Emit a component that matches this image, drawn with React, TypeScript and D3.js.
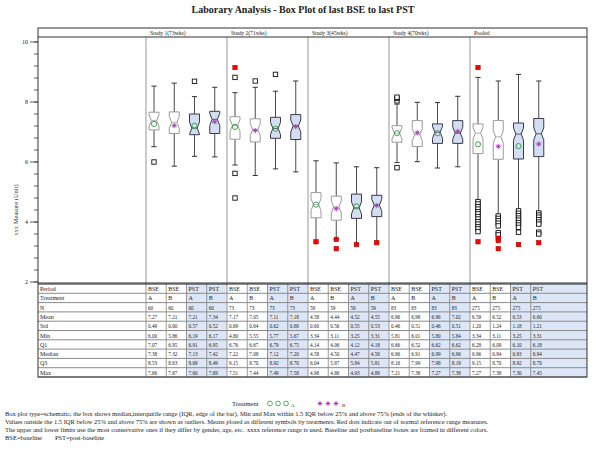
import React from 'react'
import * as d3 from 'd3'

const studies = ['Study 1(73wks)', 'Study 2(71wks)', 'Study 3(45wks)', 'Study 4(70wks)', 'Pooled']
const periods = ['BSE', 'BSE', 'PST', 'PST']
const treatments = ['A', 'B', 'A', 'B']

// table rows, 20 columns: 5 groups x (BSE A, BSE B, PST A, PST B)
const nVals = [60, 60, 60, 60, 73, 73, 73, 73, 59, 59, 59, 59, 83, 83, 83, 83, 275, 275, 275, 275]
const meanVals = [7.27, 7.21, 7.21, 7.34, 7.17, 7.05, 7.11, 7.18, 4.58, 4.44, 4.52, 4.55, 6.96, 6.98, 6.96, 7.02, 6.59, 6.52, 6.53, 6.60]
const stdVals = [0.49, 0.60, 0.57, 0.52, 0.69, 0.64, 0.62, 0.66, 0.60, 0.56, 0.55, 0.53, 0.46, 0.51, 0.46, 0.51, 1.20, 1.24, 1.18, 1.21]
const minVals = [6.00, 5.86, 6.19, 6.17, 4.80, 5.55, 5.77, 5.67, 3.34, 3.11, 3.25, 3.31, 5.81, 6.01, 5.80, 5.84, 3.34, 3.11, 3.25, 3.31]
const q1Vals = [7.07, 6.95, 6.91, 6.95, 6.76, 6.67, 6.79, 6.75, 4.14, 4.06, 4.12, 4.18, 6.66, 6.52, 6.62, 6.62, 6.28, 6.09, 6.10, 6.18]
const medianVals = [7.38, 7.32, 7.13, 7.42, 7.22, 7.08, 7.12, 7.20, 4.58, 4.50, 4.47, 4.56, 6.96, 6.91, 6.99, 6.96, 6.96, 6.84, 6.93, 6.94]
const q3Vals = [8.53, 8.63, 8.69, 8.49, 9.15, 8.70, 8.92, 8.70, 6.04, 5.97, 5.84, 5.81, 8.16, 7.99, 7.98, 8.19, 9.15, 8.70, 8.92, 8.70]
const maxVals = [7.66, 7.67, 7.60, 7.69, 7.51, 7.44, 7.49, 7.58, 4.98, 4.86, 4.93, 4.89, 7.21, 7.38, 7.27, 7.38, 7.27, 7.38, 7.30, 7.45]

// whisker ends and outliers
const whiskerLo = [6.51, 5.86, 6.19, 6.17, 5.9, 5.55, 5.77, 5.67, 3.34, 3.42, 3.25, 3.31, 5.98, 6.01, 5.80, 5.84, 4.70, 4.23, 4.40, 4.34]
const whiskerHi = [8.53, 8.63, 8.18, 8.49, 8.31, 8.49, 8.36, 8.70, 6.04, 5.97, 5.84, 5.81, 7.93, 7.99, 7.98, 8.19, 8.82, 8.70, 8.92, 8.70]
const outliers = [
  [6.00], [], [8.69], [],
  [8.82, 5.62, 4.80], [8.70], [8.92], [],
  [], [], [], [],
  [8.04, 8.12, 8.16, 5.81], [], [], [],
  [4.68, 4.60, 4.51, 4.43, 4.34, 4.27, 4.18, 4.10, 4.01, 3.93, 3.84, 3.77, 3.68],
  [4.20, 4.12, 4.04, 3.96, 3.87, 3.64, 3.57],
  [4.37, 4.29, 4.21, 4.13, 4.06, 3.98, 3.90, 3.82, 3.66],
  [4.30, 4.23, 4.16, 4.08, 4.00, 3.93, 3.66, 3.60],
]
const redPoints = [
  [], [], [], [],
  [9.15], [], [], [],
  [3.34], [3.42, 3.11], [3.25], [3.31],
  [], [], [], [],
  [9.15, 3.34], [3.46, 3.38, 3.11], [3.25], [3.31],
]

const yTicks = [2, 4, 6, 8, 10]

const footnotes = [
  'Box plot type=schematic, the box shows median,interquitile range (IQR, edge of the bar), Min and Max within 1.5 IQR below 25% and above 75% (ends of the whisker).',
  'Values outside the 1.5 IQR below 25% and above 75% are shown as outliers. Means ploted as different symbols by treatments. Red dots indicate out of normal reference range measures.',
  'The upper and lower limits use the most conservative ones if they differ by gender, age, etc.  xxxx reference range is used. Baseline and postbaseline boxes are framed in different colors.',
  'BSE=baseline        PST=post-baseline',
]

const W = 600
const H = 452
const left = 38
const right = 587
const headTop = 28
const headBot = 37
const plotBot = 283
const tableTop = 284
const rowH = 9.3
const font = 'Liberation Serif, Times New Roman, serif'
const green = '#2f9a3c'
const purple = '#a238b0'

const Star = ({ x, y, s = 2.6 }: { x: number; y: number; s?: number }) => (
  <g stroke={purple} strokeWidth={0.9}>
    <line x1={x - s} x2={x + s} y1={y} y2={y} />
    <line x1={x} x2={x} y1={y - s} y2={y + s} />
    <line x1={x - s * 0.7} x2={x + s * 0.7} y1={y - s * 0.7} y2={y + s * 0.7} />
    <line x1={x - s * 0.7} x2={x + s * 0.7} y1={y + s * 0.7} y2={y - s * 0.7} />
  </g>
)

export default function App() {
  const cols = d3.range(20)
  const x = d3.scaleBand<number>().domain(cols).range([146, 146 + 20 * 20.25])
  const y = d3.scaleLinear().domain([2, 10]).range([282, 42])
  const minor = d3.range(2, 10.01, 0.4)
  const colEnd = (i: number) => (i === 19 ? right : (x(i) as number) + x.bandwidth())

  const rowLabels = ['Period', 'Treatment', 'N', 'Mean', 'Std', 'Min', 'Q1', 'Median', 'Q3', 'Max']
  const f2 = (v: number) => v.toFixed(2)
  const rows: string[][] = [
    cols.map((i) => periods[i % 4]),
    cols.map((i) => treatments[i % 4]),
    nVals.map(String),
    meanVals.map(f2),
    stdVals.map(f2),
    minVals.map(f2),
    q1Vals.map(f2),
    medianVals.map(f2),
    q3Vals.map(f2),
    maxVals.map(f2),
  ]
  const tableBot = tableTop + rowH * rows.length

  const bw = 5
  const ind = 2.4
  const boxes = cols.map((i) => {
    const cx = (x(i) as number) + 8
    const q1 = q1Vals[i]
    const q3 = maxVals[i]
    const med = medianVals[i]
    const nt = y(Math.min(q3, med + 0.2))
    const nb = y(Math.max(q1, med - 0.2))
    const ym = y(med)
    const path = d3.path()
    path.moveTo(cx - bw, y(q3))
    path.lineTo(cx + bw, y(q3))
    path.lineTo(cx + bw, nt)
    path.lineTo(cx + bw - ind, ym)
    path.lineTo(cx + bw, nb)
    path.lineTo(cx + bw, y(q1))
    path.lineTo(cx - bw, y(q1))
    path.lineTo(cx - bw, nb)
    path.lineTo(cx - bw + ind, ym)
    path.lineTo(cx - bw, nt)
    path.closePath()
    const pst = i % 4 >= 2
    return { i, cx, q1, q3, ym, d: path.toString(), pst, trt: treatments[i % 4] }
  })

  return (
    <div style={{ position: 'absolute', left: 0, top: 0 }}>
      <svg width={W} height={H} style={{ display: 'block', background: '#fff' }} fontFamily={font}>
        <text x={303} y={13} textAnchor="middle" fontSize={10} fontWeight="bold" fill="#222">
          Laborary Analysis - Box Plot of last BSE to last PST
        </text>

        {/* table shading */}
        {cols.filter((i) => i % 4 >= 2).map((i) => (
          <rect key={'sh' + i} x={x(i)} y={tableTop} width={colEnd(i) - (x(i) as number)} height={tableBot - tableTop} fill="#dde6f6" />
        ))}

        {/* panel dividers */}
        {studies.map((s, g) => (
          <line key={'pd' + g} x1={x(g * 4)} x2={x(g * 4)} y1={headBot} y2={tableBot} stroke="#a8a8a8" strokeWidth={1.2} />
        ))}
        {/* table column lines */}
        {cols.filter((i) => i % 4 !== 0).map((i) => (
          <line key={'cl' + i} x1={x(i)} x2={x(i)} y1={tableTop} y2={tableBot} stroke="#555" strokeWidth={0.6} />
        ))}
        {/* table row lines */}
        {rows.map((r, k) => (
          <line key={'rl' + k} x1={left} x2={right} y1={tableTop + rowH * (k + 1)} y2={tableTop + rowH * (k + 1)} stroke="#8a8a8a" strokeWidth={k === rows.length - 1 ? 1.2 : 1} />
        ))}
        <line x1={left} x2={right} y1={tableTop} y2={tableTop} stroke="#222" strokeWidth={1} />

        {/* table text */}
        {rowLabels.map((lab, k) => (
          <text key={'lab' + k} x={left + 2} y={tableTop + rowH * k + 7} fontSize={6} fill="#222">{lab}</text>
        ))}
        {rows.map((r, k) =>
          r.map((v, i) => (
            <text key={'c' + k + '-' + i} x={(x(i) as number) + 2} y={tableTop + rowH * k + 7} fontSize={k < 2 ? 6 : 5.2} fill="#222">{v}</text>
          ))
        )}

        {/* frame */}
        <rect x={left} y={headTop} width={right - left} height={tableBot - headTop} fill="none" stroke="#333" strokeWidth={1} />
        <line x1={left} x2={right} y1={headBot} y2={headBot} stroke="#333" strokeWidth={1} />
        <line x1={left} x2={right} y1={plotBot} y2={plotBot} stroke="#333" strokeWidth={1} />
        {studies.map((s, g) => (
          <text key={'st' + g} x={(x(g * 4) as number) + 4} y={35} fontSize={5.6} fill="#222">{s}</text>
        ))}

        {/* y axis */}
        {minor.map((v, k) => (
          <line key={'mt' + k} x1={left - 4} x2={left} y1={y(v)} y2={y(v)} stroke="#333" strokeWidth={0.8} />
        ))}
        {yTicks.map((t) => (
          <g key={'yt' + t}>
            <line x1={left - 8} x2={left} y1={y(t)} y2={y(t)} stroke="#333" strokeWidth={0.8} />
            <text x={left - 10} y={y(t) + 2} textAnchor="end" fontSize={6} fill="#222">{t}</text>
          </g>
        ))}
        <text transform={`translate(18,210) rotate(-90)`} textAnchor="middle" fontSize={6.5} fill="#333">
          xxx Measure (Unit)
        </text>

        {/* boxes */}
        {boxes.map((b) => (
          <g key={'bx' + b.i}>
            <line x1={b.cx} x2={b.cx} y1={y(b.q3)} y2={y(whiskerHi[b.i])} stroke="#4a4a4a" strokeWidth={1} />
            <line x1={b.cx} x2={b.cx} y1={y(b.q1)} y2={y(whiskerLo[b.i])} stroke="#4a4a4a" strokeWidth={1} />
            <line x1={b.cx - 2.6} x2={b.cx + 2.6} y1={y(whiskerHi[b.i])} y2={y(whiskerHi[b.i])} stroke="#333" strokeWidth={1} />
            <line x1={b.cx - 2.6} x2={b.cx + 2.6} y1={y(whiskerLo[b.i])} y2={y(whiskerLo[b.i])} stroke="#333" strokeWidth={1} />
            <path d={b.d} fill={b.pst ? '#d3def2' : '#fff'} stroke={b.pst ? '#3a3a4a' : '#9a9a9a'} strokeWidth={1} />
            <line x1={b.cx - bw + ind} x2={b.cx + bw - ind} y1={b.ym} y2={b.ym} stroke={b.pst ? '#3a3a4a' : '#9a9a9a'} strokeWidth={0.8} />
            {b.trt === 'A' ? (
              <circle cx={b.cx} cy={y(meanVals[b.i])} r={2.6} fill="none" stroke={green} strokeWidth={0.9} />
            ) : (
              <Star x={b.cx} y={y(meanVals[b.i])} />
            )}
            {outliers[b.i].map((v, k) => (
              <rect key={'o' + k} x={b.cx - 2.2} y={y(v) - 2.2} width={4.4} height={4.4} fill="#fff" stroke="#111" strokeWidth={0.9} />
            ))}
            {redPoints[b.i].map((v, k) => (
              <rect key={'r' + k} x={b.cx - 2.2} y={y(v) - 2.2} width={4.4} height={4.4} fill="#f00" stroke="#b00" strokeWidth={0.6} />
            ))}
          </g>
        ))}

        {/* legend */}
        <text x={232} y={406} fontSize={6.5} fill="#222">Treatment</text>
        {[270, 278, 286].map((cx) => (
          <circle key={'lc' + cx} cx={cx} cy={403.5} r={2.4} fill="none" stroke={green} strokeWidth={0.8} />
        ))}
        <text x={291} y={407} fontSize={5} fill="#222">A</text>
        {[320, 328, 336].map((cx) => (
          <Star key={'ls' + cx} x={cx} y={403.5} s={2.3} />
        ))}
        <text x={342} y={407} fontSize={5} fill="#222">B</text>

        {footnotes.map((t, k) => (
          <text key={'fn' + k} x={5} y={416 + k * 8} fontSize={6.5} fill="#222" style={{ whiteSpace: 'pre' }}>{t}</text>
        ))}
      </svg>
    </div>
  )
}
